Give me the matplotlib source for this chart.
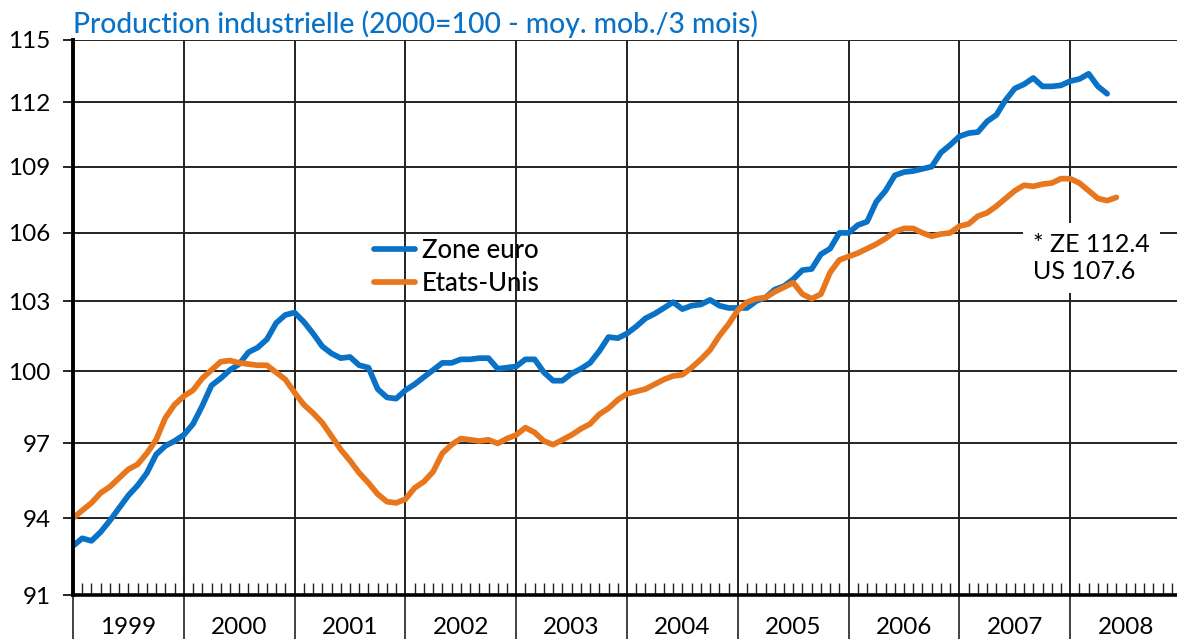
import matplotlib
matplotlib.use("Agg")
import matplotlib.pyplot as plt
from matplotlib.ticker import FixedLocator, NullLocator, NullFormatter

title = "Production industrielle (2000=100 - moy. mob./3 mois)"
years = [1999, 2000, 2001, 2002, 2003, 2004, 2005, 2006, 2007, 2008]
yticks = [91, 94, 97, 100, 103, 106, 109, 112, 115]

# monthly values, jan 1999 onwards
euro = [92.9, 93.2, 93.1, 93.45, 93.9, 94.4, 94.9, 95.3, 95.8, 96.55, 96.9, 97.1,
        97.35, 97.8, 98.55, 99.4, 99.7, 100.05, 100.3, 100.8, 101.0, 101.35, 102.05, 102.4,
        102.5, 102.1, 101.6, 101.05, 100.75, 100.55, 100.6, 100.25, 100.15, 99.25, 98.9, 98.85,
        99.2, 99.45, 99.75, 100.05, 100.35, 100.35, 100.5, 100.5, 100.55, 100.55, 100.1, 100.15,
        100.2, 100.5, 100.5, 99.95, 99.6, 99.6, 99.9, 100.1, 100.35, 100.85, 101.45, 101.4,
        101.6, 101.9, 102.25, 102.45, 102.7, 102.95, 102.65, 102.8, 102.85, 103.05, 102.8, 102.7,
        102.7, 102.7, 103.0, 103.15, 103.5, 103.65, 103.95, 104.35, 104.4, 105.05, 105.3, 106.0,
        106.0, 106.35, 106.5, 107.4, 107.9, 108.6, 108.75, 108.8, 108.9, 109.0, 109.65, 110.0,
        110.4, 110.55, 110.6, 111.1, 111.4, 112.1, 112.65, 112.85, 113.15, 112.75, 112.75, 112.8,
        113.0, 113.1, 113.35, 112.75, 112.4]
us = [94.0, 94.3, 94.6, 95.0, 95.25, 95.6, 95.95, 96.15, 96.6, 97.15, 98.05, 98.6,
      98.95, 99.2, 99.7, 100.05, 100.4, 100.45, 100.35, 100.3, 100.25, 100.25, 99.95, 99.65,
      99.1, 98.6, 98.25, 97.85, 97.3, 96.75, 96.3, 95.8, 95.4, 94.95, 94.65, 94.6,
      94.75, 95.2, 95.45, 95.85, 96.6, 96.95, 97.2, 97.15, 97.1, 97.15, 97.0, 97.2,
      97.35, 97.65, 97.45, 97.1, 96.95, 97.15, 97.35, 97.6, 97.8, 98.2, 98.45, 98.8,
      99.05, 99.15, 99.25, 99.45, 99.65, 99.8, 99.85, 100.15, 100.5, 100.9, 101.5, 102.0,
      102.6, 102.95, 103.1, 103.15, 103.4, 103.6, 103.8, 103.3, 103.1, 103.3, 104.25, 104.8,
      104.95, 105.1, 105.3, 105.5, 105.75, 106.05, 106.2, 106.2, 106.0, 105.85, 105.95, 106.0,
      106.3, 106.4, 106.75, 106.9, 107.2, 107.55, 107.9, 108.15, 108.1, 108.2, 108.25, 108.45,
      108.45, 108.25, 107.9, 107.55, 107.45, 107.6]
note = "* ZE 112.4\nUS 107.6"

blue = "#0a72c6"
orange = "#e8761c"
grid_c = "#222222"

plt.rcParams['font.family'] = ['Lato', 'DejaVu Sans']

W, H = 1177, 639
fig = plt.figure(figsize=(W / 100, H / 100), dpi=100)
ax = fig.add_axes([73 / W, 44 / H, 1108 / W, 555.5 / H])

x_eu = [1999 + i / 12 for i in range(len(euro))]
x_us = [1999 + i / 12 for i in range(len(us))]

ax.set_yscale('log')
ax.set_ylim(91, 115)
ax.set_xlim(1999, 2009)

for v in yticks:
    ax.axhline(v, color=grid_c, lw=1.4, zorder=1)
for yr in years[1:]:
    ax.axvline(yr, color=grid_c, lw=1.4, zorder=1)

l1, = ax.plot(x_eu, euro, color=blue, lw=4.1, solid_capstyle='round', solid_joinstyle='round', zorder=3)
l2, = ax.plot(x_us, us, color=orange, lw=4.1, solid_capstyle='round', solid_joinstyle='round', zorder=3)

ax.yaxis.set_major_locator(FixedLocator(yticks))
ax.yaxis.set_minor_locator(NullLocator())
ax.yaxis.set_minor_formatter(NullFormatter())
ax.set_yticklabels([str(v) for v in yticks])
ax.tick_params(axis='y', which='major', direction='out', length=7, width=1.2,
               pad=9, labelsize=17.5, colors='black')

ax.xaxis.set_major_locator(FixedLocator(years))
ax.xaxis.set_major_formatter(NullFormatter())
ax.xaxis.set_minor_locator(FixedLocator([1999 + i / 12 for i in range(121)]))
ax.tick_params(axis='x', which='major', direction='out', length=32, width=1.2, color=grid_c)
ax.tick_params(axis='x', which='minor', direction='in', length=8.5, width=1.0, color=grid_c)

for yr in years:
    ax.text(yr + 0.5, -0.058, str(yr), transform=ax.get_xaxis_transform(),
            ha='center', va='center', fontsize=17.5)

for s in ['top', 'right']:
    ax.spines[s].set_visible(False)
ax.spines['left'].set_linewidth(2.8)
ax.spines['bottom'].set_linewidth(2.6)
ax.spines['left'].set_zorder(4)
ax.spines['bottom'].set_zorder(4)

leg = ax.legend([l1, l2], ["Zone euro", "Etats-Unis"], loc='upper left',
                bbox_to_anchor=(374 / W, 1 - 238 / H), bbox_transform=fig.transFigure,
                frameon=False, prop={'size': 18.5, 'weight': 'medium'},
                handlelength=1.6, handletextpad=0.25,
                labelspacing=0.33, borderpad=0, borderaxespad=0)

ax.text(1033 / W, 1 - 258 / H, note, transform=fig.transFigure, ha='left', va='center',
        fontsize=18, linespacing=1.2, zorder=5,
        bbox=dict(boxstyle='square,pad=0.42', facecolor='white', edgecolor='none'))

fig.text(73 / W, 1 - 33 / H, title, color=blue, fontsize=20.3, fontweight='medium',
         ha='left', va='baseline')

fig.savefig("out.png", dpi=100)
